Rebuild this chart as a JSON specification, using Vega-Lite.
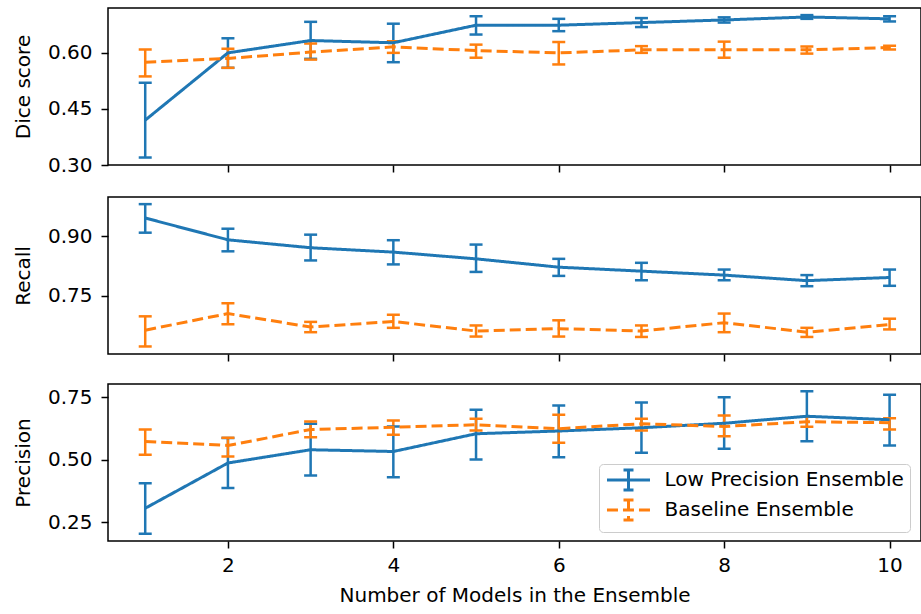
{
  "$schema": "https://vega.github.io/schema/vega-lite/v6.json",
  "padding": {"left": 12, "top": 7, "right": 1, "bottom": 4},
  "config": {
    "font": "DejaVu Sans",
    "view": {"stroke": "black", "strokeWidth": 1.5},
    "tick": {"opacity": 1},
    "rule": {"opacity": 1},
    "axis": {"grid": false, "domain": false, "tickColor": "black", "tickWidth": 1.5, "tickSize": 7, "labelFontSize": 20, "labelColor": "black", "titleFontSize": 20, "titleFontWeight": "normal", "titleColor": "black", "labelPadding": 9, "titlePadding": 14}
  },
  "datasets": {
    "d": [
      {"metric": "dice", "model": "Low Precision Ensemble", "n": 1, "mean": 0.42, "lo": 0.32, "hi": 0.52},
      {"metric": "dice", "model": "Low Precision Ensemble", "n": 2, "mean": 0.60, "lo": 0.56, "hi": 0.639},
      {"metric": "dice", "model": "Low Precision Ensemble", "n": 3, "mean": 0.633, "lo": 0.584, "hi": 0.683},
      {"metric": "dice", "model": "Low Precision Ensemble", "n": 4, "mean": 0.627, "lo": 0.575, "hi": 0.678},
      {"metric": "dice", "model": "Low Precision Ensemble", "n": 5, "mean": 0.674, "lo": 0.649, "hi": 0.698},
      {"metric": "dice", "model": "Low Precision Ensemble", "n": 6, "mean": 0.674, "lo": 0.658, "hi": 0.691},
      {"metric": "dice", "model": "Low Precision Ensemble", "n": 7, "mean": 0.681, "lo": 0.669, "hi": 0.693},
      {"metric": "dice", "model": "Low Precision Ensemble", "n": 8, "mean": 0.688, "lo": 0.681, "hi": 0.695},
      {"metric": "dice", "model": "Low Precision Ensemble", "n": 9, "mean": 0.696, "lo": 0.691, "hi": 0.701},
      {"metric": "dice", "model": "Low Precision Ensemble", "n": 10, "mean": 0.691, "lo": 0.684, "hi": 0.698},
      {"metric": "dice", "model": "Baseline Ensemble", "n": 1, "mean": 0.575, "lo": 0.537, "hi": 0.609},
      {"metric": "dice", "model": "Baseline Ensemble", "n": 2, "mean": 0.585, "lo": 0.56, "hi": 0.611},
      {"metric": "dice", "model": "Baseline Ensemble", "n": 3, "mean": 0.602, "lo": 0.582, "hi": 0.625},
      {"metric": "dice", "model": "Baseline Ensemble", "n": 4, "mean": 0.616, "lo": 0.60, "hi": 0.631},
      {"metric": "dice", "model": "Baseline Ensemble", "n": 5, "mean": 0.606, "lo": 0.587, "hi": 0.622},
      {"metric": "dice", "model": "Baseline Ensemble", "n": 6, "mean": 0.60, "lo": 0.569, "hi": 0.629},
      {"metric": "dice", "model": "Baseline Ensemble", "n": 7, "mean": 0.608, "lo": 0.60, "hi": 0.618},
      {"metric": "dice", "model": "Baseline Ensemble", "n": 8, "mean": 0.608, "lo": 0.587, "hi": 0.63},
      {"metric": "dice", "model": "Baseline Ensemble", "n": 9, "mean": 0.608, "lo": 0.598, "hi": 0.617},
      {"metric": "dice", "model": "Baseline Ensemble", "n": 10, "mean": 0.614, "lo": 0.609, "hi": 0.619},
      {"metric": "recall", "model": "Low Precision Ensemble", "n": 1, "mean": 0.946, "lo": 0.909, "hi": 0.981},
      {"metric": "recall", "model": "Low Precision Ensemble", "n": 2, "mean": 0.891, "lo": 0.862, "hi": 0.919},
      {"metric": "recall", "model": "Low Precision Ensemble", "n": 3, "mean": 0.871, "lo": 0.839, "hi": 0.904},
      {"metric": "recall", "model": "Low Precision Ensemble", "n": 4, "mean": 0.86, "lo": 0.829, "hi": 0.89},
      {"metric": "recall", "model": "Low Precision Ensemble", "n": 5, "mean": 0.843, "lo": 0.81, "hi": 0.879},
      {"metric": "recall", "model": "Low Precision Ensemble", "n": 6, "mean": 0.822, "lo": 0.80, "hi": 0.843},
      {"metric": "recall", "model": "Low Precision Ensemble", "n": 7, "mean": 0.812, "lo": 0.789, "hi": 0.833},
      {"metric": "recall", "model": "Low Precision Ensemble", "n": 8, "mean": 0.802, "lo": 0.789, "hi": 0.816},
      {"metric": "recall", "model": "Low Precision Ensemble", "n": 9, "mean": 0.788, "lo": 0.774, "hi": 0.802},
      {"metric": "recall", "model": "Low Precision Ensemble", "n": 10, "mean": 0.796, "lo": 0.775, "hi": 0.816},
      {"metric": "recall", "model": "Baseline Ensemble", "n": 1, "mean": 0.663, "lo": 0.622, "hi": 0.698},
      {"metric": "recall", "model": "Baseline Ensemble", "n": 2, "mean": 0.705, "lo": 0.678, "hi": 0.731},
      {"metric": "recall", "model": "Baseline Ensemble", "n": 3, "mean": 0.671, "lo": 0.658, "hi": 0.684},
      {"metric": "recall", "model": "Baseline Ensemble", "n": 4, "mean": 0.685, "lo": 0.669, "hi": 0.702},
      {"metric": "recall", "model": "Baseline Ensemble", "n": 5, "mean": 0.661, "lo": 0.647, "hi": 0.675},
      {"metric": "recall", "model": "Baseline Ensemble", "n": 6, "mean": 0.667, "lo": 0.647, "hi": 0.688},
      {"metric": "recall", "model": "Baseline Ensemble", "n": 7, "mean": 0.661, "lo": 0.646, "hi": 0.675},
      {"metric": "recall", "model": "Baseline Ensemble", "n": 8, "mean": 0.682, "lo": 0.658, "hi": 0.705},
      {"metric": "recall", "model": "Baseline Ensemble", "n": 9, "mean": 0.658, "lo": 0.646, "hi": 0.669},
      {"metric": "recall", "model": "Baseline Ensemble", "n": 10, "mean": 0.677, "lo": 0.665, "hi": 0.692},
      {"metric": "precision", "model": "Low Precision Ensemble", "n": 1, "mean": 0.306, "lo": 0.204, "hi": 0.406},
      {"metric": "precision", "model": "Low Precision Ensemble", "n": 2, "mean": 0.487, "lo": 0.387, "hi": 0.587},
      {"metric": "precision", "model": "Low Precision Ensemble", "n": 3, "mean": 0.54, "lo": 0.437, "hi": 0.644},
      {"metric": "precision", "model": "Low Precision Ensemble", "n": 4, "mean": 0.533, "lo": 0.43, "hi": 0.633},
      {"metric": "precision", "model": "Low Precision Ensemble", "n": 5, "mean": 0.604, "lo": 0.501, "hi": 0.70},
      {"metric": "precision", "model": "Low Precision Ensemble", "n": 6, "mean": 0.615, "lo": 0.51, "hi": 0.717},
      {"metric": "precision", "model": "Low Precision Ensemble", "n": 7, "mean": 0.628, "lo": 0.528, "hi": 0.729},
      {"metric": "precision", "model": "Low Precision Ensemble", "n": 8, "mean": 0.646, "lo": 0.544, "hi": 0.75},
      {"metric": "precision", "model": "Low Precision Ensemble", "n": 9, "mean": 0.674, "lo": 0.574, "hi": 0.774},
      {"metric": "precision", "model": "Low Precision Ensemble", "n": 10, "mean": 0.66, "lo": 0.557, "hi": 0.76},
      {"metric": "precision", "model": "Baseline Ensemble", "n": 1, "mean": 0.573, "lo": 0.52, "hi": 0.621},
      {"metric": "precision", "model": "Baseline Ensemble", "n": 2, "mean": 0.557, "lo": 0.513, "hi": 0.588},
      {"metric": "precision", "model": "Baseline Ensemble", "n": 3, "mean": 0.621, "lo": 0.59, "hi": 0.653},
      {"metric": "precision", "model": "Baseline Ensemble", "n": 4, "mean": 0.63, "lo": 0.60, "hi": 0.657},
      {"metric": "precision", "model": "Baseline Ensemble", "n": 5, "mean": 0.64, "lo": 0.617, "hi": 0.664},
      {"metric": "precision", "model": "Baseline Ensemble", "n": 6, "mean": 0.624, "lo": 0.568, "hi": 0.68},
      {"metric": "precision", "model": "Baseline Ensemble", "n": 7, "mean": 0.644, "lo": 0.617, "hi": 0.664},
      {"metric": "precision", "model": "Baseline Ensemble", "n": 8, "mean": 0.633, "lo": 0.594, "hi": 0.677},
      {"metric": "precision", "model": "Baseline Ensemble", "n": 9, "mean": 0.652, "lo": 0.632, "hi": 0.672},
      {"metric": "precision", "model": "Baseline Ensemble", "n": 10, "mean": 0.648, "lo": 0.621, "hi": 0.666}
    ]
  },
  "spacing": 20,
  "resolve": {"legend": {"color": "independent", "strokeDash": "independent"}},
  "vconcat": [
    {
      "width": 813, "height": 157,
      "data": {"name": "d"},
      "transform": [{"filter": "datum.metric === 'dice'"}],
      "encoding": {
        "x": {"field": "n", "type": "quantitative", "scale": {"domain": [0.55, 10.38], "nice": false, "zero": false}, "axis": {"values": [2, 4, 6, 8, 10], "labels": false, "title": null}},
        "color": {"field": "model", "type": "nominal", "scale": {"domain": ["Low Precision Ensemble", "Baseline Ensemble"], "range": ["#1f77b4", "#ff7f0e"]}, "legend": null}
      },
      "layer": [
        {"mark": {"type": "rule", "strokeWidth": 2.5}, "encoding": {"y": {"field": "lo", "type": "quantitative", "title": "Dice score", "scale": {"domain": [0.30, 0.72], "nice": false, "zero": false}, "axis": {"values": [0.30, 0.45, 0.60], "format": ".2f"}}, "y2": {"field": "hi"}}},
        {"mark": {"type": "tick", "orient": "horizontal", "size": 13, "thickness": 2.5, "opacity": 1}, "encoding": {"y": {"field": "lo", "type": "quantitative", "title": "Dice score"}}},
        {"mark": {"type": "tick", "orient": "horizontal", "size": 13, "thickness": 2.5, "opacity": 1}, "encoding": {"y": {"field": "hi", "type": "quantitative", "title": "Dice score"}}},
        {"mark": {"type": "line", "strokeWidth": 3}, "encoding": {"y": {"field": "mean", "type": "quantitative", "title": "Dice score"}, "strokeDash": {"field": "model", "type": "nominal", "scale": {"domain": ["Low Precision Ensemble", "Baseline Ensemble"], "range": [[1, 0], [11, 5]]}, "legend": null}}}
      ]
    },
    {
      "width": 813, "height": 157,
      "data": {"name": "d"},
      "transform": [{"filter": "datum.metric === 'recall'"}],
      "encoding": {
        "x": {"field": "n", "type": "quantitative", "scale": {"domain": [0.55, 10.38], "nice": false, "zero": false}, "axis": {"values": [2, 4, 6, 8, 10], "labels": false, "title": null}},
        "color": {"field": "model", "type": "nominal", "scale": {"domain": ["Low Precision Ensemble", "Baseline Ensemble"], "range": ["#1f77b4", "#ff7f0e"]}, "legend": null}
      },
      "layer": [
        {"mark": {"type": "rule", "strokeWidth": 2.5}, "encoding": {"y": {"field": "lo", "type": "quantitative", "title": "Recall", "scale": {"domain": [0.603, 0.999], "nice": false, "zero": false}, "axis": {"values": [0.75, 0.90], "format": ".2f"}}, "y2": {"field": "hi"}}},
        {"mark": {"type": "tick", "orient": "horizontal", "size": 13, "thickness": 2.5, "opacity": 1}, "encoding": {"y": {"field": "lo", "type": "quantitative", "title": "Recall"}}},
        {"mark": {"type": "tick", "orient": "horizontal", "size": 13, "thickness": 2.5, "opacity": 1}, "encoding": {"y": {"field": "hi", "type": "quantitative", "title": "Recall"}}},
        {"mark": {"type": "line", "strokeWidth": 3}, "encoding": {"y": {"field": "mean", "type": "quantitative", "title": "Recall"}, "strokeDash": {"field": "model", "type": "nominal", "scale": {"domain": ["Low Precision Ensemble", "Baseline Ensemble"], "range": [[1, 0], [11, 5]]}, "legend": null}}}
      ]
    },
    {
      "width": 813, "height": 157,
      "data": {"name": "d"},
      "transform": [{"filter": "datum.metric === 'precision'"}],
      "encoding": {
        "x": {"field": "n", "type": "quantitative", "title": "Number of Models in the Ensemble", "scale": {"domain": [0.55, 10.38], "nice": false, "zero": false}, "axis": {"values": [2, 4, 6, 8, 10], "titlePadding": 10, "labelPadding": 7}},
        "color": {"field": "model", "type": "nominal", "scale": {"domain": ["Low Precision Ensemble", "Baseline Ensemble"], "range": ["#1f77b4", "#ff7f0e"]},
          "legend": {"title": null, "orient": "none", "legendX": 491, "legendY": 80, "symbolType": "M-2.69,0H2.69M0,-1.25V1.25M-0.625,-1.25H0.625M-0.625,1.25H0.625", "symbolSize": 256, "symbolOffset": 13.5, "symbolStrokeWidth": 3, "symbolOpacity": 1, "symbolFillColor": "transparent", "labelFontSize": 20, "labelColor": "black", "labelOffset": 26, "fillColor": "white", "strokeColor": "#cccccc", "cornerRadius": 4, "padding": 6, "rowPadding": -2, "labelLimit": 400}}
      },
      "layer": [
        {"mark": {"type": "rule", "strokeWidth": 2.5}, "encoding": {"y": {"field": "lo", "type": "quantitative", "title": "Precision", "scale": {"domain": [0.175, 0.803], "nice": false, "zero": false}, "axis": {"values": [0.25, 0.50, 0.75], "format": ".2f"}}, "y2": {"field": "hi"}}},
        {"mark": {"type": "tick", "orient": "horizontal", "size": 13, "thickness": 2.5, "opacity": 1}, "encoding": {"y": {"field": "lo", "type": "quantitative", "title": "Precision"}}},
        {"mark": {"type": "tick", "orient": "horizontal", "size": 13, "thickness": 2.5, "opacity": 1}, "encoding": {"y": {"field": "hi", "type": "quantitative", "title": "Precision"}}},
        {"mark": {"type": "line", "strokeWidth": 3}, "encoding": {"y": {"field": "mean", "type": "quantitative", "title": "Precision"}, "strokeDash": {"field": "model", "type": "nominal", "scale": {"domain": ["Low Precision Ensemble", "Baseline Ensemble"], "range": [[1, 0], [11, 5]]},
          "legend": {"title": null, "orient": "none", "legendX": 491, "legendY": 80, "symbolType": "M-2.69,0H2.69M0,-1.25V1.25M-0.625,-1.25H0.625M-0.625,1.25H0.625", "symbolSize": 256, "symbolOffset": 13.5, "symbolStrokeWidth": 3, "symbolOpacity": 1, "symbolFillColor": "transparent", "labelFontSize": 20, "labelColor": "black", "labelOffset": 26, "fillColor": "white", "strokeColor": "#cccccc", "cornerRadius": 4, "padding": 6, "rowPadding": -2, "labelLimit": 400}}}}
      ]
    }
  ]
}
